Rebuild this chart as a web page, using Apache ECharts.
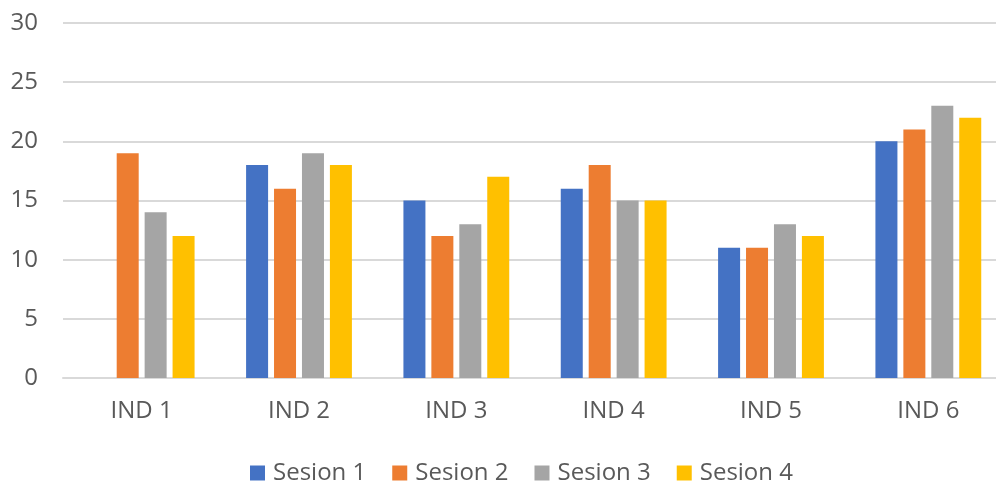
<!DOCTYPE html>
<html>
<head>
<meta charset="utf-8">
<script src="https://cdn.jsdelivr.net/npm/echarts@6/dist/echarts.min.js"></script>
<style>html,body{margin:0;padding:0;background:#fff;}#c{width:996px;height:481px;}</style>
</head>
<body>
<div id="c"></div>
<script>
const categories = ['IND 1', 'IND 2', 'IND 3', 'IND 4', 'IND 5', 'IND 6'];
const seriesNames = ['Sesion 1', 'Sesion 2', 'Sesion 3', 'Sesion 4'];
const sesion1 = [0, 18, 15, 16, 11, 20];
const sesion2 = [19, 16, 12, 18, 11, 21];
const sesion3 = [14, 19, 13, 15, 13, 23];
const sesion4 = [12, 18, 17, 15, 12, 22];
const colors = ['#4472C4', '#ED7D31', '#A5A5A5', '#FFC000'];
const allValues = [sesion1, sesion2, sesion3, sesion4];

const chart = echarts.init(document.getElementById('c'));
const font = '"Open Sans", "Noto Sans", sans-serif';
chart.setOption({
  animation: false,
  textStyle: { fontFamily: font },
  grid: { left: 63, top: 23, width: 944, height: 355, containLabel: false, outerBoundsMode: 'none' },
  legend: {
    top: 461,
    left: 250,
    padding: 0,
    itemWidth: 15,
    itemHeight: 15,
    itemGap: 26,
    icon: 'rect',
    textStyle: { color: '#595959', fontSize: 24, fontFamily: font, padding: [0, 0, 0, 3] },
    data: seriesNames
  },
  xAxis: {
    type: 'category',
    data: categories,
    axisLine: { lineStyle: { color: '#D9D9D9', width: 2 } },
    axisTick: { show: false },
    axisLabel: { color: '#595959', fontSize: 24, margin: 21, fontFamily: font }
  },
  yAxis: {
    type: 'value',
    min: 0, max: 30, interval: 5,
    axisLine: { show: false },
    axisTick: { show: false },
    axisLabel: { color: '#595959', fontSize: 24, margin: 25, fontFamily: font },
    splitLine: { lineStyle: { color: '#D9D9D9', width: 2 } }
  },
  series: seriesNames.map((n, i) => ({
    name: n,
    type: 'bar',
    data: allValues[i],
    barWidth: 22,
    barGap: '27%',
    itemStyle: { color: colors[i] }
  }))
});
</script>
</body>
</html>
